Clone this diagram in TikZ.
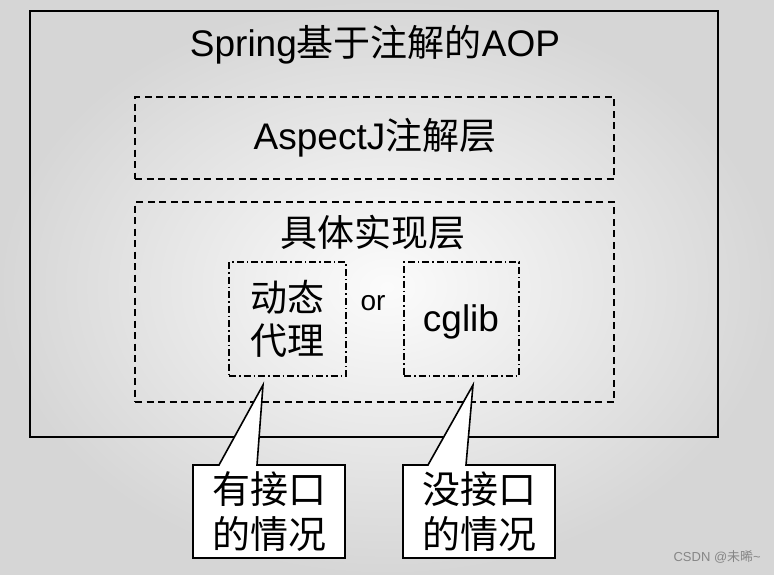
\documentclass[tikz,border=0pt]{standalone}
\usepackage{fontspec}
\setmainfont{Liberation Sans}
\newfontfamily\cjk{Noto Sans CJK SC}
\newcommand{\zh}[1]{{\cjk #1}}
\begin{document}
\begin{tikzpicture}[x=1pt,y=-1pt,
  frame/.style={draw=black,line width=1.6pt,inner sep=0pt},
  dashbox/.style={draw=black,line width=1.5pt,inner sep=0pt,dash pattern=on 7pt off 4.5pt},
  dotbox/.style={draw=black,line width=1.5pt,inner sep=0pt,dash pattern=on 7pt off 3pt on 1.5pt off 3pt},
  callout/.style={draw=black,line width=1.6pt,fill=white,line join=miter},
  lbl/.style={inner sep=0pt,align=center,text=black},
]
\useasboundingbox (0,0) rectangle (774,574);
\shade[inner color=white!97!gray,outer color=gray!32] (0,0) rectangle (774,574);

\node[frame,minimum width=688pt,minimum height=426pt] (outer) at (374,224) {};
\node[dashbox,minimum width=479pt,minimum height=82pt] (anno) at (374.5,138) {};
\node[dashbox,minimum width=479pt,minimum height=200pt] (impl) at (374.5,302) {};
\node[dotbox,minimum width=117pt,minimum height=114pt] (proxy) at (287.5,319) {};
\node[dotbox,minimum width=115pt,minimum height=114pt] (cglib) at (461.5,319) {};

\coordinate (tipA) at (263,385);
\coordinate (tipB) at (473,385);
\draw[callout] (193,465) -- (219,465) -- (tipA) -- (257,465) -- (345,465) -- (345,558) -- (193,558) -- cycle;
\draw[callout] (403,465) -- (428,465) -- (tipB) -- (466,465) -- (555,465) -- (555,558) -- (403,558) -- cycle;

\node[lbl,font=\fontsize{37}{42}\selectfont] (title) at (375,45) {Spring\zh{基于注解的}AOP};
\node[lbl,font=\fontsize{37}{42}\selectfont] (annot) at (375,138) {AspectJ\zh{注解层}};
\node[lbl,font=\fontsize{37}{42}\selectfont\cjk] (implt) at (373,232) {具体实现层};
\node[lbl,font=\fontsize{37}{43}\selectfont\cjk] (proxyt) at (287,319) {动态\\代理};
\node[lbl,font=\fontsize{28}{32}\selectfont] (or) at (373,303) {or};
\node[lbl,font=\fontsize{37}{42}\selectfont] (cglibt) at (461,322) {cglib};
\node[lbl,font=\fontsize{38}{45}\selectfont\cjk] (ca) at (269,512) {有接口\\的情况};
\node[lbl,font=\fontsize{38}{45}\selectfont\cjk] (cb) at (479,512) {没接口\\的情况};
\node[lbl,font=\fontsize{13}{15}\selectfont,text=gray!95,anchor=east] (wm) at (761,557) {CSDN @\zh{未晞}\textasciitilde};
\end{tikzpicture}
\end{document}
